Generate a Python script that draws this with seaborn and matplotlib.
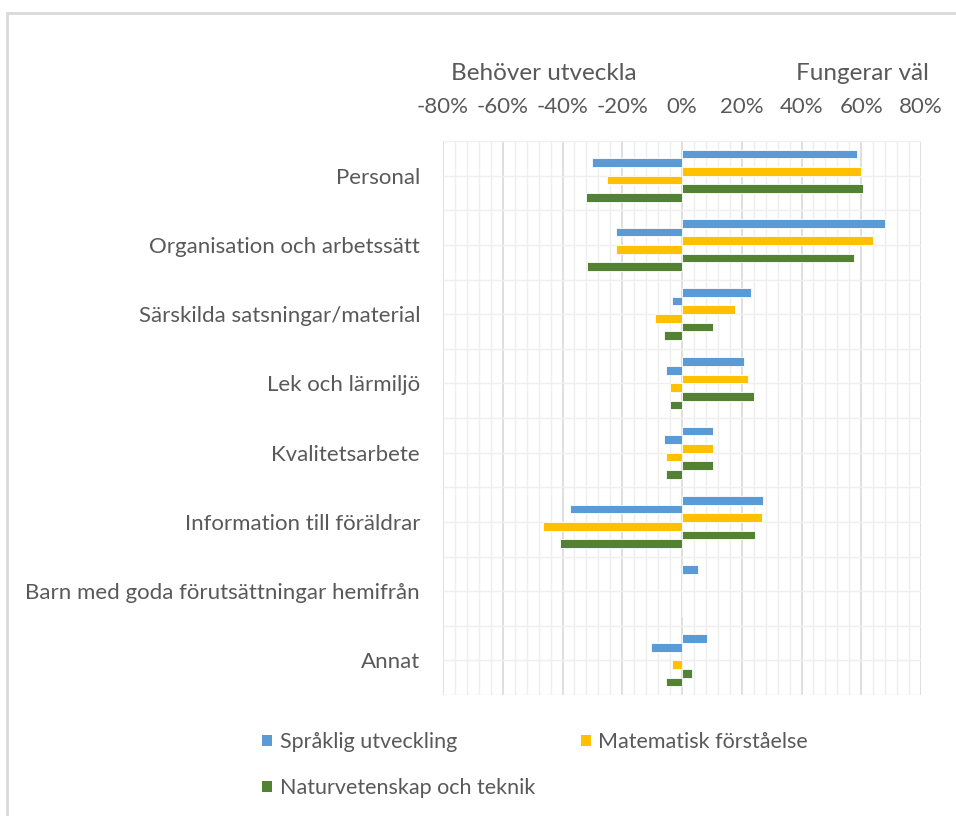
import numpy as np
import pandas as pd
import matplotlib
matplotlib.use("Agg")
import matplotlib.pyplot as plt
import matplotlib.patches as mpatches
from matplotlib.ticker import MultipleLocator, FuncFormatter
import seaborn as sns

categories = [
    "Personal",
    "Organisation och arbetssätt",
    "Särskilda satsningar/material",
    "Lek och lärmiljö",
    "Kvalitetsarbete",
    "Information till föräldrar",
    "Barn med goda förutsättningar hemifrån",
    "Annat",
]
series_names = ["Språklig utveckling", "Matematisk förståelse", "Naturvetenskap och teknik"]

# Fungerar väl (positive) and Behöver utveckla (negative), in percent
sprak_pos = [58.5, 68.0, 23.0, 20.7, 10.5, 27.2, 5.4, 8.4]
sprak_neg = [-30.2, -22.1, -3.2, -5.4, -6.1, -37.5, 0.0, -10.5]
mat_pos = [59.9, 64.1, 17.7, 22.1, 10.5, 26.8, 0.0, 0.0]
mat_neg = [-25.0, -22.1, -9.1, -4.0, -5.4, -46.4, 0.0, -3.2]
nat_pos = [60.6, 57.6, 10.5, 24.2, 10.5, 24.6, 0.0, 3.2]
nat_neg = [-32.2, -31.9, -6.1, -4.0, -5.4, -40.9, 0.0, -5.4]

colors = ["#5B9BD5", "#FFC000", "#548235"]

slots = [
    ("Språklig +", sprak_pos), ("Språklig -", sprak_neg),
    ("Matematisk +", mat_pos), ("Matematisk -", mat_neg),
    ("Natur +", nat_pos), ("Natur -", nat_neg),
]
rows = []
for name, vals in slots:
    for c, v in zip(categories, vals):
        rows.append({"Kategori": c, "Serie": name, "Värde": v})
df = pd.DataFrame(rows)

sns.set_theme(style="white")
plt.rcParams["font.family"] = ["Lato", "DejaVu Sans"]
plt.rcParams["axes.unicode_minus"] = False

text_color = "#595959"
fig = plt.figure(figsize=(9.56, 8.16), dpi=100)
ax = fig.add_axes([443 / 956, 1 - 695 / 816, (921 - 443) / 956, (695 - 141) / 816])

palette = [colors[0], colors[0], colors[1], colors[1], colors[2], colors[2]]
sns.barplot(data=df, y="Kategori", x="Värde", hue="Serie", order=categories,
            hue_order=[s[0] for s in slots], palette=palette, orient="h",
            width=0.75, dodge=True, ax=ax, legend=False,
            edgecolor="#ffffff", linewidth=0.6, saturation=1)

ax.set_xlim(-80, 80)
ax.set_ylim(len(categories) - 0.5, -0.5)
ax.xaxis.tick_top()
ax.xaxis.set_major_locator(MultipleLocator(20))
ax.xaxis.set_minor_locator(MultipleLocator(4))
ax.xaxis.set_major_formatter(FuncFormatter(lambda v, p: f"{v:.0f}%"))
ax.set_yticks(range(len(categories)))
ax.set_xlabel("")
ax.set_ylabel("")
ax.set_axisbelow(True)

# gridlines
for x in np.arange(-80, 81, 4):
    major = abs(x % 20) < 1e-9
    ax.axvline(x, color="#d9d9d9" if major else "#efefef", lw=1.2 if major else 1.0, zorder=0)
for y in np.arange(-0.5, len(categories), 0.5):
    ax.axhline(y, color="#efefef", lw=1.0, zorder=0)

for s in ax.spines.values():
    s.set_visible(False)
ax.tick_params(axis="both", which="both", length=0)
ax.tick_params(axis="x", labelsize=16, labelcolor=text_color, pad=17)
ax.tick_params(axis="y", labelsize=16, labelcolor=text_color, pad=16.5)

fig.text(544 / 956, 1 - 74 / 816, "Behöver utveckla", ha="center", va="center",
         fontsize=17.5, color=text_color)
fig.text(862 / 956, 1 - 74 / 816, "Fungerar väl", ha="center", va="center",
         fontsize=17.5, color=text_color)

handles = [mpatches.Patch(facecolor=c, edgecolor="none", label=n) for c, n in zip(colors, series_names)]
handles = [handles[0], handles[2], handles[1]]
fig.legend(handles=handles, loc="upper left", bbox_to_anchor=(243 / 956, 1 - 713 / 816),
           ncol=2, frameon=False, fontsize=15.5, labelcolor=text_color,
           handlelength=0.45, handleheight=0.45, handletextpad=0.35,
           columnspacing=2.15, labelspacing=1.2)

border = mpatches.Rectangle((7 / 956, -0.05), 1.1, 1 - 13 / 816 + 0.05, transform=fig.transFigure,
                            fill=False, edgecolor="#d9d9d9", lw=2, clip_on=False)
fig.patches.append(border)

fig.savefig("out.png", dpi=100, facecolor="white")
